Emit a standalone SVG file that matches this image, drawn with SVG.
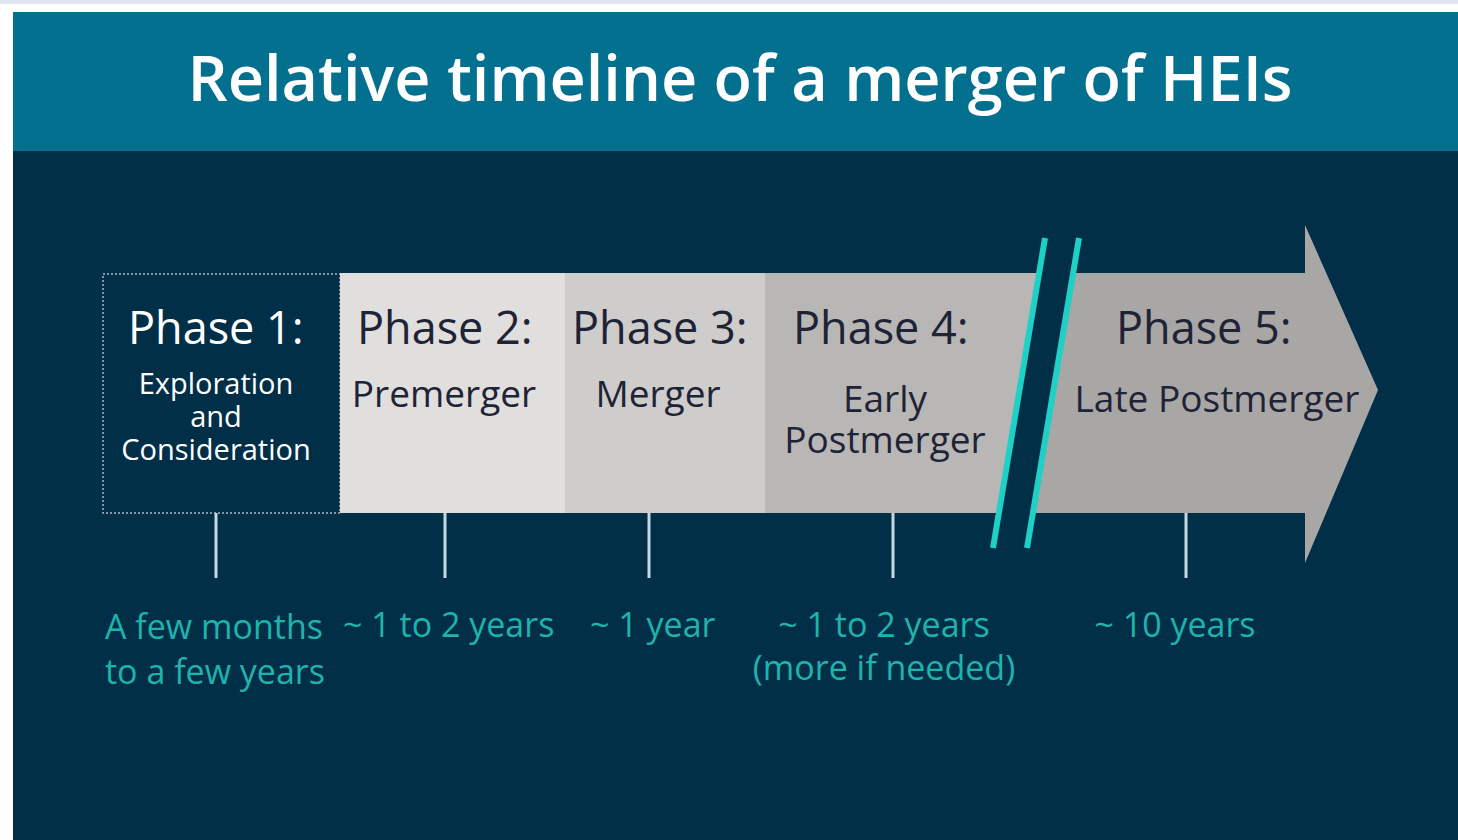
<svg xmlns="http://www.w3.org/2000/svg" width="1458" height="840" viewBox="0 0 1458 840">
<style>
.ph{font-family:"Open Sans","Liberation Sans",sans-serif;font-size:45px;fill:#1f2336}
.sub{font-family:"Open Sans","Liberation Sans",sans-serif;font-size:37px;fill:#1f2336;text-anchor:middle}
.p1{font-family:"Open Sans","Liberation Sans",sans-serif;font-size:29px;fill:#ffffff;text-anchor:middle}
.dur{font-family:"Open Sans","Liberation Sans",sans-serif;font-size:34px;fill:#1fb3ad}
.tick{stroke:#c6d8e3;stroke-width:3}
.brk{stroke:#1fd0c7;stroke-width:6}
</style>
<rect width="1458" height="840" fill="#ffffff"/>
<rect x="0" y="0" width="1458" height="4" fill="#dfe5ee"/>
<rect x="13" y="12" width="1445" height="828" fill="#012f48"/>
<rect x="13" y="12" width="1445" height="139" fill="#03708f"/>
<text x="740" y="101" text-anchor="middle" font-family="'Open Sans','Liberation Sans',sans-serif" font-size="63" font-weight="600" fill="#ffffff">Relative timeline of a merger of HEIs</text>

<g id="phase1">
<rect x="103" y="274" width="237" height="239" fill="#012f48" stroke="#aab8c4" stroke-width="1.5" stroke-dasharray="2 2"/>
<text class="ph" x="128" y="344" style="fill:#ffffff">Phase 1:</text>
<text class="p1" x="216" y="394">Exploration</text>
<text class="p1" x="216" y="427">and</text>
<text class="p1" x="216" y="460">Consideration</text>
</g>
<g id="phase2">
<rect x="340" y="273" width="225" height="240" fill="#e0dfde"/>
<text class="ph" x="357" y="344">Phase 2:</text>
<text class="sub" x="444" y="407">Premerger</text>
</g>
<g id="phase3">
<rect x="565" y="273" width="200" height="240" fill="#cecdcc"/>
<text class="ph" x="572" y="344">Phase 3:</text>
<text class="sub" x="658" y="407">Merger</text>
</g>
<g id="phase4">
<polygon points="765,273 1039,273 999,513 765,513" fill="#b9b7b5"/>
<text class="ph" x="793" y="344">Phase 4:</text>
<text class="sub" x="885" y="412">Early</text>
<text class="sub" x="885" y="453">Postmerger</text>
</g>
<g id="phase5">
<polygon points="1073,273 1305,273 1305,225 1378,390 1305,563 1305,513 1033,513" fill="#a9a7a5"/>
<text class="ph" x="1116" y="344">Phase 5:</text>
<text class="sub" x="1217" y="412">Late Postmerger</text>
</g>
<g id="break">
<line class="brk" x1="1045" y1="238" x2="993" y2="548"/>
<line class="brk" x1="1079" y1="238" x2="1027" y2="548"/>
</g>
<g id="connectors">
<line class="tick" x1="216" y1="513" x2="216" y2="578"/>
<line class="tick" x1="445" y1="513" x2="445" y2="578"/>
<line class="tick" x1="649" y1="513" x2="649" y2="578"/>
<line class="tick" x1="893" y1="513" x2="893" y2="578"/>
<line class="tick" x1="1186" y1="513" x2="1186" y2="578"/>
</g>
<g id="durations">
<text class="dur" x="105" y="639">A few months</text>
<text class="dur" x="105" y="684">to a few years</text>
<text class="dur" x="343" y="637">~ 1 to 2 years</text>
<text class="dur" x="590" y="637">~ 1 year</text>
<text class="dur" x="884" y="637" text-anchor="middle">~ 1 to 2 years</text>
<text class="dur" x="884" y="680" text-anchor="middle">(more if needed)</text>
<text class="dur" x="1175" y="637" text-anchor="middle">~ 10 years</text>
</g>
</svg>
